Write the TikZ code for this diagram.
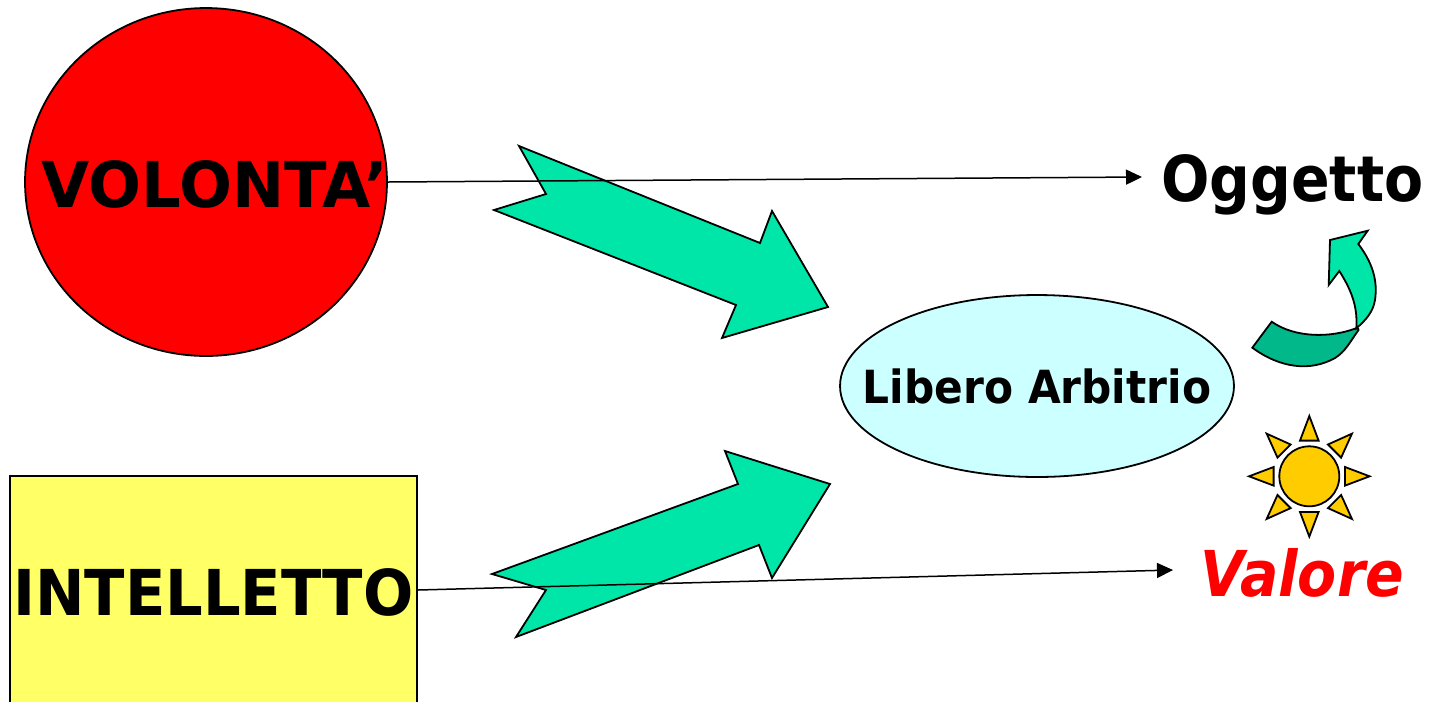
\documentclass[tikz,border=0pt]{standalone}
\usepackage{fontspec}
\setmainfont{DejaVu Sans}[FakeStretch=0.9]
\newfontfamily\fontlargo{DejaVu Sans}[FakeStretch=0.985]
\newfontfamily\fontmedio{DejaVu Sans}[FakeStretch=0.935]
\newfontfamily\fontpiccolo{DejaVu Sans}[FakeStretch=0.927]
\usetikzlibrary{positioning, shapes.geometric, arrows.meta}
\definecolor{freccia}{HTML}{00E6A8}
\definecolor{frecciascura}{HTML}{00B88A}
\definecolor{cielo}{HTML}{CCFFFF}
\definecolor{giallo}{HTML}{FFFF66}
\definecolor{sole}{HTML}{FFCC00}
\tikzset{
  contorno/.style={draw=black, line width=0.036cm},
  titolo/.style={font=\fontsize{36}{36}\selectfont\bfseries, inner sep=0pt},
  blockarrow/.style={contorno, fill=freccia, line join=miter},
  filo/.style={line width=0.03cm, -{Triangle[length=0.32cm, width=0.3cm]}}
}
\begin{document}
\begin{tikzpicture}[x=0.02cm, y=-0.02cm]
\clip (0,0) rectangle (1430,701);
\node [contorno, shape=ellipse, fill=red, minimum width=7.24cm, minimum height=6.96cm, inner sep=0pt] (cerchio) at (206,182) {};
\node [titolo, font=\fontsize{36}{36}\fontlargo\bfseries] (volonta) at (215,184) {VOLONTA’};
\node [contorno, fill=giallo, minimum width=8.14cm, minimum height=4.56cm, inner sep=0pt] (quadro) at (213.5,590) {};
\node [titolo, font=\fontsize{36}{36}\fontmedio\bfseries] (intelletto) at (213.5,592) {INTELLETTO};
\node [contorno, shape=ellipse, fill=cielo, minimum width=7.88cm, minimum height=3.64cm, inner sep=0pt] (libero) at (1037,386) {};
\node [font=\fontsize{26}{26}\fontpiccolo\bfseries, inner sep=0pt] (arbitrio) at (libero) {Libero Arbitrio};
\node [titolo] (oggetto) at (1292.5,185) {Oggetto};
\node [titolo, text=red, font=\fontsize{36}{36}\selectfont\bfseries\itshape] (valore) at (1302,573) {Valore};
\coordinate (oggettoin) at (1142,177);
\coordinate (valorein) at (1173,570);
% frecce grandi
\draw [blockarrow] (519,146) -- (760,243) -- (772,211) -- (828,307) -- (722,338) -- (736,305) -- (494,210) -- (546,194) -- cycle;
\draw [blockarrow] (492,574) -- (738,484) -- (725,451) -- (830,484) -- (772,578) -- (759,545) -- (516,637) -- (546,590) -- cycle;
% fili
\draw [filo] (cerchio.east) -- (oggettoin);
\draw [filo] (quadro.east) -- (valorein);
% freccia curva
\draw [contorno, fill=frecciascura] (1252.3,347.7) -- (1271.7,321.7) .. controls (1295,338) and (1330,338) .. (1356,328.3) .. controls (1358,328) and (1359,329) .. (1358.5,330) .. controls (1350,342) and (1345,352) .. (1335,358) .. controls (1310,372) and (1280,368) .. cycle;
\draw [contorno, fill=freccia] (1356.3,328.3) .. controls (1358,305) and (1350,288) .. (1339.3,271) -- (1328.7,285) -- (1330,240) -- (1367.7,230.7) -- (1358.3,244) .. controls (1372,262) and (1378,280) .. (1375,300) .. controls (1373,312) and (1366,320) .. cycle;
% sole
\node [contorno, shape=circle, fill=sole, minimum size=1.2cm, inner sep=0pt] (sole) at (1309.3,476.3) {};
\foreach \a in {0,45,...,315}
  \draw [contorno, fill=sole, shift={(sole.center)}, rotate=\a] (0,-60.3) -- (-9.3,-35.7) -- (9.3,-35.7) -- cycle;
\end{tikzpicture}
\end{document}
